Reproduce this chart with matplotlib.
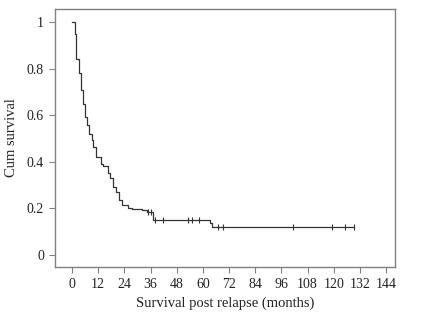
import matplotlib
matplotlib.use("Agg")
import matplotlib.pyplot as plt

# Kaplan-Meier step data (months, cumulative survival)
times = [0, 1.4, 2, 3.4, 4, 5.2, 6, 7, 8, 9, 9.8, 11, 13.1, 14, 16.7, 17.4,
         18.9, 20, 21.6, 23, 25.5, 27.4, 32.3, 34.2, 37.3, 63.3, 64.2, 129.3]
survival = [1.0, 0.947, 0.84, 0.78, 0.708, 0.648, 0.594, 0.558, 0.519, 0.494,
            0.465, 0.422, 0.39, 0.383, 0.35, 0.33, 0.29, 0.272, 0.236, 0.215,
            0.2, 0.197, 0.193, 0.183, 0.15, 0.136, 0.119, 0.119]
# censored observations
censor_times = [35.0, 36.1, 38.0, 41.9, 53.3, 55.0, 58.4, 67.1, 69.2, 101.5,
                119.1, 125.2, 129.3]
censor_surv = [0.183, 0.183, 0.15, 0.15, 0.15, 0.15, 0.15, 0.119, 0.119,
               0.119, 0.119, 0.119, 0.119]

xticks = [0, 12, 24, 36, 48, 60, 72, 84, 96, 108, 120, 132, 144]
yticks = [0, 0.2, 0.4, 0.6, 0.8, 1.0]
ytick_labels = ["0", "0.2", "0.4", "0.6", "0.8", "1"]

plt.rcParams['font.family'] = ['Liberation Serif', 'DejaVu Serif']

fig = plt.figure(figsize=(4.29, 3.22), dpi=100)
ax = fig.add_axes([55/429, 1 - 267/322, 340/429, 258/322])

ax.step(times, survival, where='post', color='#333333', lw=0.9)
ax.plot(censor_times, censor_surv, linestyle='none', marker='|',
        markersize=4, color='#333333', mew=0.8)

ax.set_xlim(-7.8, 148.1)
ax.set_ylim(-0.0515, 1.056)
ax.set_xticks(xticks)
ax.set_xticklabels([str(t) for t in xticks])
ax.set_yticks(yticks)
ax.set_yticklabels(ytick_labels)

for s in ax.spines.values():
    s.set_color('#808080')
    s.set_linewidth(1.0)

ax.tick_params(axis='both', direction='out', length=4, width=0.8,
               color='#808080', labelsize=10, labelcolor='#222222', pad=4)

ax.set_xlabel("Survival post relapse (months)", fontsize=10.5, color='#222222',
              labelpad=4)
ax.set_ylabel("Cum survival", fontsize=10.5, color='#222222', labelpad=6)

fig.savefig("out.png", dpi=100)
